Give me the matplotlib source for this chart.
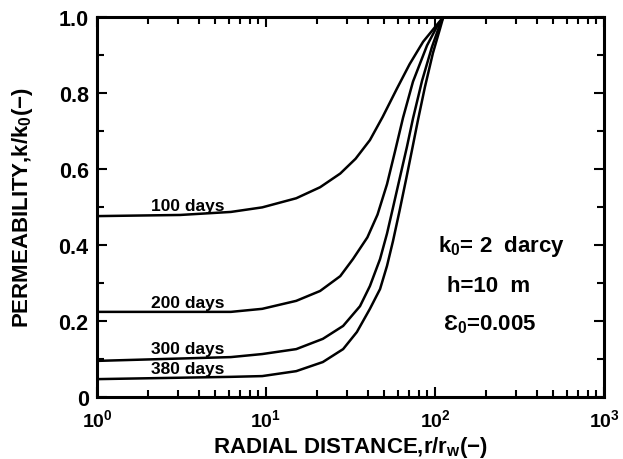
import matplotlib
matplotlib.use("Agg")
import matplotlib.pyplot as plt
from matplotlib.ticker import LogLocator, FixedLocator, NullFormatter

plt.rcParams['font.family'] = ['Liberation Sans', 'DejaVu Sans']
plt.rcParams['font.weight'] = 'bold'
plt.rcParams['mathtext.fontset'] = 'custom'
plt.rcParams['mathtext.rm'] = 'Liberation Sans:bold'
plt.rcParams['mathtext.it'] = 'Liberation Sans:bold'
plt.rcParams['mathtext.bf'] = 'Liberation Sans:bold'

# ---- data (r/rw, k/k0) ----
r_100 = [1, 3.1, 6.2, 9.5, 15.1, 20.9, 27.5, 33.9, 41.2, 49, 59.6, 70.8, 85.1, 102, 112]
k_100 = [0.476, 0.479, 0.487, 0.499, 0.523, 0.552, 0.588, 0.627, 0.676, 0.737, 0.812, 0.876, 0.935, 0.978, 1.0]

r_200 = [1, 6.2, 9.5, 15.1, 20.9, 27.5, 32.7, 39.8, 45.7, 52, 57.9, 64.7, 74.1, 89.7, 102.8, 112]
k_200 = [0.224, 0.224, 0.232, 0.253, 0.279, 0.318, 0.363, 0.42, 0.48, 0.56, 0.645, 0.735, 0.83, 0.925, 0.975, 1.0]

r_300 = [1, 6.2, 9.5, 15.1, 21.7, 28.6, 36, 41.2, 47.3, 52, 56.2, 61.2, 68.2, 74.1, 83.8, 95.9, 105.7, 112]
k_300 = [0.095, 0.105, 0.113, 0.126, 0.153, 0.187, 0.239, 0.292, 0.363, 0.43, 0.495, 0.567, 0.658, 0.733, 0.832, 0.921, 0.974, 1.0]

r_380 = [1, 6.2, 9.5, 15.1, 21.7, 28.6, 34.5, 41.2, 47.3, 52, 56.4, 61.7, 67.6, 73.1, 79.4, 87.1, 97.2, 107.2, 112]
k_380 = [0.047, 0.053, 0.055, 0.068, 0.092, 0.126, 0.171, 0.232, 0.284, 0.345, 0.41, 0.49, 0.575, 0.65, 0.73, 0.815, 0.905, 0.97, 1.0]

curve_labels = ["100 days", "200 days", "300 days", "380 days"]
label_r = [3.45, 3.45, 3.45, 3.45]
label_k = [0.493, 0.237, 0.116, 0.063]

y_ticks = [0, 0.2, 0.4, 0.6, 0.8, 1.0]
y_ticklabels = ["0", "0.2", "0.4", "0.6", "0.8", "1.0"]
x_ticks = [1, 10, 100, 1000]
x_ticklabels = ["$10^0$", "$10^1$", "$10^2$", "$10^3$"]

fig = plt.figure(figsize=(6.23, 4.60), dpi=100)
ax = fig.add_axes([0.1557, 0.1348, 0.8138, 0.8261])

for r, k in [(r_100, k_100), (r_200, k_200), (r_300, k_300), (r_380, k_380)]:
    ax.plot(r, k, color='black', lw=1.8, solid_joinstyle='round', solid_capstyle='round')

for lab, x, y in zip(curve_labels, label_r, label_k):
    ax.text(x, y, lab, fontsize=12.5, fontweight='bold', ha='center', va='baseline')

ax.text(104, 0.384, "k$_0$= 2  darcy", fontsize=16, fontweight='bold', ha='left', va='baseline')
ax.text(117, 0.279, "h=10  m", fontsize=16, fontweight='bold', ha='left', va='baseline')
ax.text(111, 0.179, "Ɛ$_0$=0.005", fontsize=16, fontweight='bold', ha='left', va='baseline')

ax.set_xscale('log')
ax.set_xlim(1, 1000)
ax.set_ylim(0, 1.0)
ax.set_xticks(x_ticks)
ax.set_xticklabels(x_ticklabels, fontsize=14)
ax.xaxis.set_minor_locator(LogLocator(base=10, subs=range(2, 10)))
ax.xaxis.set_minor_formatter(NullFormatter())
ax.set_yticks(y_ticks)
ax.set_yticklabels(y_ticklabels, fontsize=15.5)
ax.yaxis.set_minor_locator(FixedLocator([0.1, 0.3, 0.5, 0.7, 0.9]))

ax.tick_params(which='both', direction='in', top=True, right=True, width=1.5)
ax.tick_params(which='major', length=7)
ax.tick_params(which='minor', length=5)
ax.tick_params(axis='x', which='major', pad=8)
ax.tick_params(axis='y', which='major', pad=6)
for s in ax.spines.values():
    s.set_linewidth(2.2)

ax.set_xlabel("RADIAL DISTANCE,r/r$_w$(−)", fontsize=16, fontweight='bold')
ax.xaxis.set_label_coords(0.5, -0.097)
ax.set_ylabel("PERMEABILITY,k/k$_0$(−)", fontsize=16, fontweight='bold', labelpad=17)

fig.savefig("out.png", dpi=100)
